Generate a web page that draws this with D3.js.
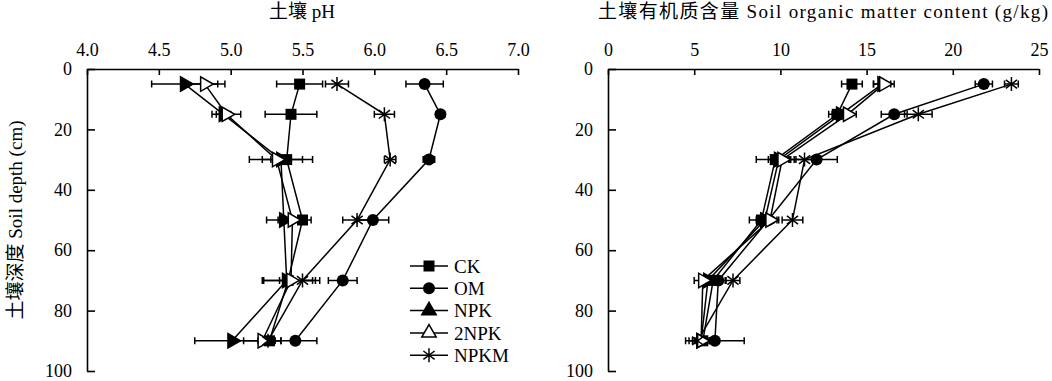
<!DOCTYPE html>
<html>
    <head>
        <meta charset="utf-8">
        <script src="https://d3js.org/d3.v7.min.js"></script>
        <style>
            body { margin: 0; background: #fff; }
            text { font-family: "Liberation Serif", "Noto Sans CJK SC", serif; fill: #000; }
        </style>
    </head>
    <body>
        <svg height="381" width="1052" id="chart"></svg>
        <script>
            // depths (cm) where samples were taken
            const depths = [5, 15, 30, 50, 70, 90];
            const series = ["CK", "OM", "NPK", "2NPK", "NPKM"];
            const phTicks = [4.0, 4.5, 5.0, 5.5, 6.0, 6.5, 7.0];
            const somTicks = [0, 5, 10, 15, 20, 25];
            const depthTicks = [0, 20, 40, 60, 80, 100];

            // soil pH
            const phCK   = [5.48, 5.42, 5.39, 5.50, 5.40, 5.27];
            const phOM   = [6.35, 6.46, 6.38, 5.99, 5.78, 5.45];
            const phNPK  = [4.68, 4.95, 5.35, 5.37, 5.39, 5.01];
            const ph2NPK = [4.82, 4.97, 5.32, 5.43, 5.42, 5.22];
            const phNPKM = [5.74, 6.07, 6.11, 5.88, 5.50, 5.26];
            const phErrCK   = [0.16, 0.18, 0.11, 0.06, 0.17, 0.08];
            const phErrOM   = [0.13, 0.03, 0.04, 0.11, 0.10, 0.15];
            const phErrNPK  = [0.23, 0.05, 0.22, 0.12, 0.05, 0.26];
            const phErr2NPK = [0.14, 0.10, 0.10, 0.10, 0.20, 0.13];
            const phErrNPKM = [0.08, 0.07, 0.04, 0.10, 0.09, 0.05];

            // soil organic matter (g/kg)
            const somCK   = [14.15, 13.3, 9.7, 8.9, 6.1, 5.5];
            const somOM   = [21.8, 16.6, 12.1, 9.3, 6.4, 6.2];
            const somNPK  = [15.9, 13.5, 9.9, 9.1, 5.8, 5.4];
            const som2NPK = [16.0, 13.9, 10.1, 9.4, 5.5, 5.4];
            const somNPKM = [23.4, 18.0, 11.4, 10.7, 7.25, 5.2];
            const somErrCK   = [0.6, 0.5, 1.1, 0.7, 0.4, 0.4];
            const somErrOM   = [0.5, 0.75, 1.2, 0.5, 0.4, 1.7];
            const somErrNPK  = [0.5, 0.5, 0.6, 0.5, 0.3, 0.5];
            const somErr2NPK = [0.6, 0.5, 0.5, 0.5, 0.5, 0.4];
            const somErrNPKM = [0.4, 0.8, 0.9, 0.6, 0.4, 0.5];

            const svg = d3.select("#chart");
            const y = d3.scaleLinear().domain([0, 100]).range([69, 371]);

            // marker drawing per series
            function marker(g, name, rotate) {
                if (name === "CK") {
                    g.append("rect").attr("x", -5.5).attr("y", -5.5).attr("width", 11).attr("height", 11).attr("fill", "#000");
                } else if (name === "OM") {
                    g.append("circle").attr("r", 6).attr("fill", "#000");
                } else if (name === "NPK" || name === "2NPK") {
                    g.append("path")
                        .attr("d", d3.symbol(d3.symbolTriangle, 90)())
                        .attr("transform", rotate ? "rotate(90)" : null)
                        .attr("fill", name === "NPK" ? "#000" : "#fff")
                        .attr("stroke", "#000").attr("stroke-width", 1.5);
                } else {
                    const r = 7;
                    g.append("path")
                        .attr("d", `M0,${-r}V${r}M${-r*0.8},${-r*0.6}L${r*0.8},${r*0.6}M${-r*0.8},${r*0.6}L${r*0.8},${-r*0.6}`)
                        .attr("stroke", "#000").attr("stroke-width", 1.5).attr("fill", "none");
                }
            }

            function drawPanel(opt) {
                const x = d3.scaleLinear().domain(opt.domain).range(opt.range);
                const g = svg.append("g");

                g.append("g")
                    .attr("transform", `translate(0,${y(0)})`)
                    .call(d3.axisTop(x).tickValues(opt.ticks).tickFormat(opt.fmt).tickSizeInner(-6).tickSizeOuter(0).tickPadding(17))
                    .call(a => a.selectAll("text").style("font-size", "18px").attr("dy", "0.2em"));
                g.append("g")
                    .attr("transform", `translate(${opt.range[0]},0)`)
                    .call(d3.axisLeft(y).tickValues(depthTicks).tickSizeInner(-8).tickSizeOuter(0).tickPadding(15))
                    .call(a => a.selectAll("text").style("font-size", "18px"));
                g.selectAll(".domain, .tick line").attr("stroke", "#000").attr("stroke-width", 1.6);

                const t = g.append("text")
                    .attr("x", opt.titleX).attr("y", 18)
                    .attr("text-anchor", "middle").style("font-size", "19px")
                    .text(opt.title);
                if (opt.titleLen) t.attr("textLength", opt.titleLen).attr("lengthAdjust", "spacing");

                const line = d3.line().x(d => x(d[0])).y(d => y(d[1]));
                opt.values.forEach((vals, i) => {
                    const pts = vals.map((v, j) => [v, depths[j], opt.errs[i][j]]);
                    g.append("path").datum(pts).attr("d", line)
                        .attr("fill", "none").attr("stroke", "#000").attr("stroke-width", 1.5);
                    const eb = g.append("g");
                    pts.forEach(p => {
                        const x0 = x(p[0] - p[2]), x1 = x(p[0] + p[2]), yy = y(p[1]);
                        eb.append("path")
                            .attr("d", `M${x0},${yy}H${x1}M${x0},${yy-3.5}V${yy+3.5}M${x1},${yy-3.5}V${yy+3.5}`)
                            .attr("stroke", "#000").attr("stroke-width", 1.5).attr("fill", "none");
                    });
                });
                opt.values.forEach((vals, i) => {
                    vals.forEach((v, j) => {
                        const m = g.append("g").attr("transform", `translate(${x(v)},${y(depths[j])})`);
                        marker(m, series[i], true);
                    });
                });
            }

            drawPanel({
                domain: [4, 7], range: [87, 518], ticks: phTicks, fmt: d3.format(".1f"),
                title: "土壤 pH", titleX: 302,
                values: [phCK, phOM, phNPK, ph2NPK, phNPKM],
                errs: [phErrCK, phErrOM, phErrNPK, phErr2NPK, phErrNPKM]
            });
            drawPanel({
                domain: [0, 25], range: [608, 1039], ticks: somTicks, fmt: d3.format("d"),
                title: "土壤有机质含量 Soil organic matter content (g/kg)", titleX: 823, titleLen: 450,
                values: [somCK, somOM, somNPK, som2NPK, somNPKM],
                errs: [somErrCK, somErrOM, somErrNPK, somErr2NPK, somErrNPKM]
            });

            svg.append("text")
                .attr("transform", "translate(22,220) rotate(-90)")
                .attr("text-anchor", "middle").style("font-size", "19px")
                .text("土壤深度 Soil depth (cm)");

            // legend
            const legend = svg.append("g");
            series.forEach((s, i) => {
                const ly = 266 + i * 22.3;
                const row = legend.append("g").attr("transform", `translate(410,${ly})`);
                row.append("line").attr("x1", 0).attr("x2", 38).attr("stroke", "#000").attr("stroke-width", 1.5);
                marker(row.append("g").attr("transform", "translate(19,0)"), s, false);
                row.append("text").attr("x", 44).attr("dy", "0.35em").style("font-size", "19px").text(s);
            });
        </script>
    </body>
</html>
